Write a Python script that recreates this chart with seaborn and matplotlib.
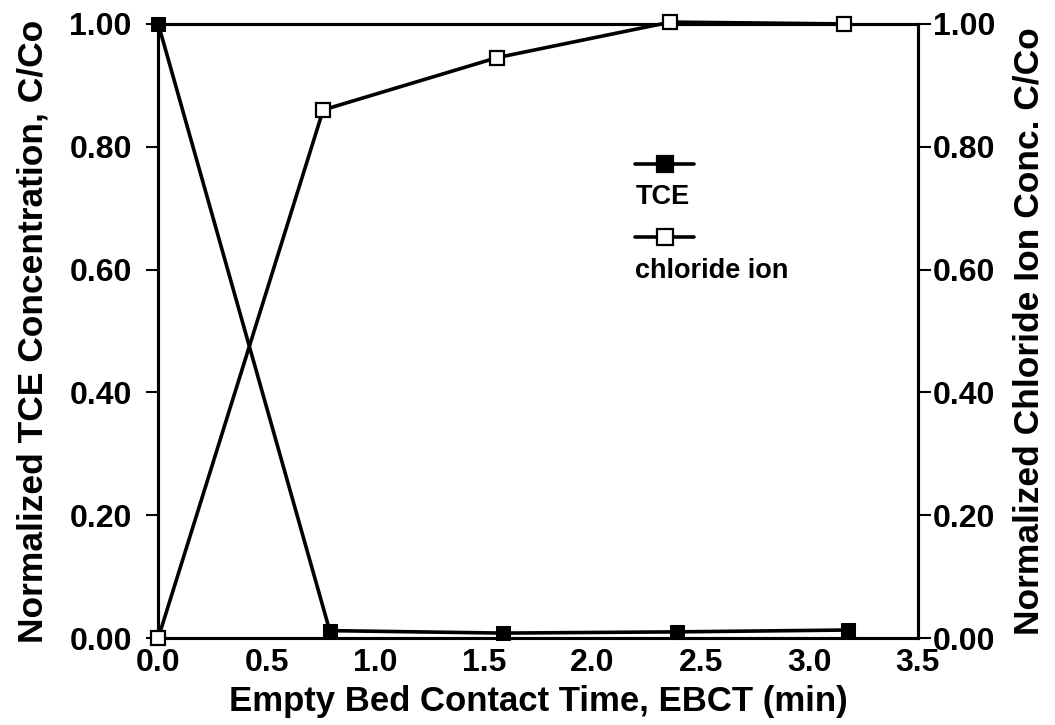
import matplotlib
matplotlib.use("Agg")
import matplotlib.pyplot as plt
import seaborn as sns
import pandas as pd
from matplotlib.lines import Line2D

# data
ebct_tce = [0.0, 0.79, 1.59, 2.39, 3.18]
tce = [1.0, 0.012, 0.008, 0.010, 0.013]
ebct_cl = [0.0, 0.76, 1.56, 2.36, 3.16]
chloride = [0.0, 0.86, 0.945, 1.003, 1.0]

xticks = [0.0, 0.5, 1.0, 1.5, 2.0, 2.5, 3.0, 3.5]
yticks = [0.0, 0.2, 0.4, 0.6, 0.8, 1.0]

sns.set_style("white")
plt.rcParams['font.family'] = ['Liberation Sans', 'DejaVu Sans']
plt.rcParams['font.weight'] = 'bold'
for k in ("text.color", "axes.labelcolor", "xtick.color", "ytick.color"):
    plt.rcParams[k] = "black"

df_tce = pd.DataFrame({"x": ebct_tce, "y": tce})
df_cl = pd.DataFrame({"x": ebct_cl, "y": chloride})

fig = plt.figure(figsize=(10.55, 7.25), dpi=100)
ax = fig.add_axes([0.15, 0.12, 0.72, 0.847])
ax2 = ax.twinx()

sns.lineplot(data=df_tce, x="x", y="y", ax=ax, color="black", lw=2.6,
             marker="s", markersize=10, markerfacecolor="black",
             markeredgecolor="black", clip_on=False, zorder=5)
sns.lineplot(data=df_cl, x="x", y="y", ax=ax2, color="black", lw=2.6,
             marker="s", markersize=10, markerfacecolor="white",
             markeredgecolor="black", markeredgewidth=1.6, clip_on=False, zorder=5)

ax.set_xlim(0, 3.5)
ax.set_ylim(0, 1.0)
ax2.set_ylim(0, 1.0)
ax.set_xticks(xticks)
ax.set_xticklabels([f"{t:.1f}" for t in xticks])
ax.set_yticks(yticks)
ax.set_yticklabels([f"{t:.2f}" for t in yticks])
ax2.set_yticks(yticks)
ax2.set_yticklabels([f"{t:.2f}" for t in yticks])

ax.tick_params(axis="x", direction="in", length=9, width=1.5, labelsize=23, pad=7)
ax.tick_params(axis="y", direction="out", length=9, width=1.5, labelsize=23, pad=10, left=True)
ax2.tick_params(axis="y", direction="out", length=9, width=1.5, labelsize=23, pad=2, right=True)

for a in (ax, ax2):
    for s in a.spines.values():
        s.set_linewidth(2.2)
        s.set_color("black")

ax.set_xlabel("Empty Bed Contact Time, EBCT (min)", fontsize=25, fontweight="bold", labelpad=5)
ax.set_ylabel("Normalized TCE Concentration, C/Co", fontsize=25.5, fontweight="bold", labelpad=14)
ax2.set_ylabel("Normalized Chloride Ion Conc. C/Co", fontsize=25.5, fontweight="bold", labelpad=12)

# legend: symbol above the label
for yl, yt, face, name in [(0.772, 0.718, "black", "TCE"), (0.653, 0.598, "white", "chloride ion")]:
    ax.add_line(Line2D([0.628, 0.705], [yl, yl], transform=ax.transAxes, color="black", lw=2.6))
    ax.plot([0.6665], [yl], transform=ax.transAxes, marker="s", markersize=12,
            markerfacecolor=face, markeredgecolor="black", markeredgewidth=1.6)
    ax.text(0.628, yt, name, transform=ax.transAxes, fontsize=19.5, fontweight="bold",
            va="center", ha="left")

fig.savefig("out.png", dpi=100)
